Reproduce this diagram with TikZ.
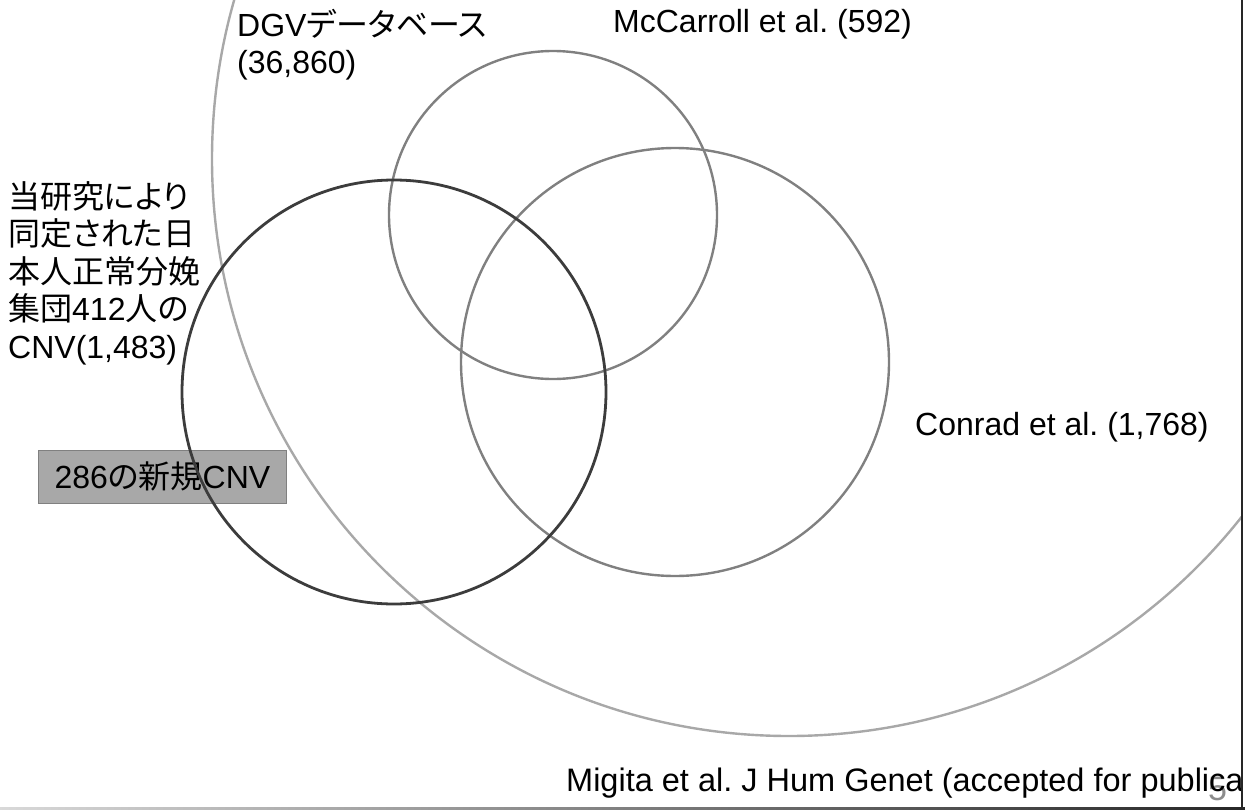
\documentclass[tikz,border=0pt]{standalone}
\usepackage{fontspec}
\setmainfont{Liberation Sans}
\newfontfamily\jpfont[RawFeature=+palt]{Noto Sans CJK JP}
\frenchspacing

\definecolor{dgvgray}{HTML}{A8A8A8}
\definecolor{setgray}{HTML}{808080}
\definecolor{studygray}{HTML}{3C3C3C}
\definecolor{boxgray}{HTML}{A8A8A8}

\tikzset{
  setring/.style={line width=2.4pt},
  setlabel/.style={inner sep=0pt, font=\fontsize{32}{37}\selectfont},
  novelbox/.style={draw=setgray, fill=boxgray, line width=0.8pt, inner sep=0pt,
    minimum width=248pt, minimum height=53pt, font=\fontsize{32}{37}\selectfont},
}

\begin{document}
\begin{tikzpicture}[x=1pt,y=-1pt]
\useasboundingbox (0,0) rectangle (1245,811);

% ---------------- parameters ----------------
\pgfmathsetmacro{\DgvR}{577}      % DGV database (outer set)
\pgfmathsetmacro{\McR}{164}       % McCarroll et al.
\pgfmathsetmacro{\ConR}{214}      % Conrad et al.
\pgfmathsetmacro{\StudyR}{212}    % this study

\coordinate (DgvC) at (789,159);
\coordinate (McC) at (553,215);
\coordinate (ConC) at (675,362);
\coordinate (StudyC) at (394,392);

\begin{scope}
\clip (0,0) rectangle (1241,807);

% novel CNV box sits under the rings
\node[novelbox, anchor=north west] (novel) at (38,450)
  {286{\jpfont の新規}CNV};

% ---------------- set rings ----------------
\draw[setring,dgvgray] (DgvC) circle[radius=\DgvR pt];
\draw[setring,setgray] (McC) circle[radius=\McR pt];
\draw[setring,setgray] (ConC) circle[radius=\ConR pt];
\draw[setring,studygray,line width=2.8pt] (StudyC) circle[radius=\StudyR pt];

% ---------------- labels ----------------
\node[setlabel, anchor=north west, align=left] (dgvlbl) at (237,9)
  {DGV{\jpfont データベース}\\(36,860)};
\node[setlabel, anchor=base west] (mclbl) at (613,32) {McCarroll et al. (592)};
\node[setlabel, anchor=base west] (conlbl) at (915,435) {Conrad et al. (1,768)};
\node[setlabel, anchor=north west, align=left,
      font=\fontsize{32}{37.5}\selectfont] (studylbl) at (8,181)
  {{\jpfont 当研究により}\\{\jpfont 同定された日}\\{\jpfont 本人正常分娩}\\
   {\jpfont 集団}412{\jpfont 人の}\\CNV(1,483)};

% slide number and reference line
\node[setlabel, anchor=base west, text=black!45, font=\fontsize{34}{37}\selectfont]
  (slideno) at (1208,800) {5};
\node[setlabel, anchor=base west, font=\fontsize{32.5}{37}\selectfont] (reflbl) at (566,791)
  {Migita et al. J Hum Genet (accepted for publica};
\end{scope}

% ---------------- frame ----------------
\fill[black!85] (1240.5,0) rectangle (1242.5,809);
\shade[left color=black!15, right color=black!85] (0,807.5) rectangle (1245,809.5);

\end{tikzpicture}
\end{document}
